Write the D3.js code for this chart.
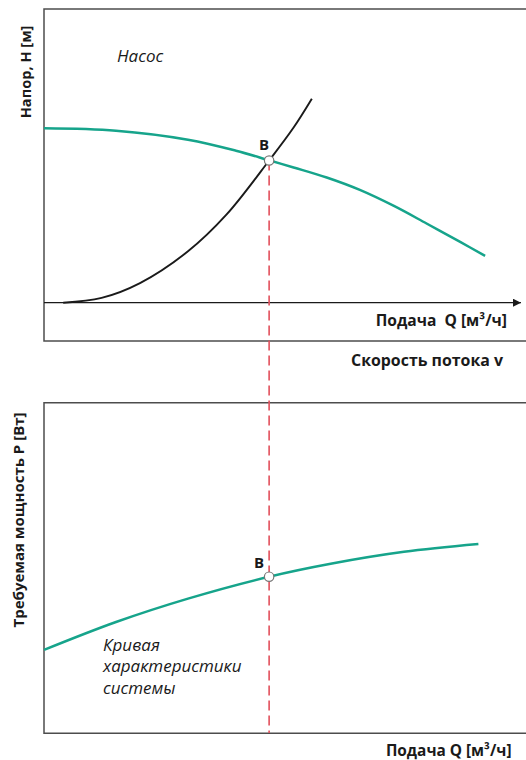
<!DOCTYPE html>
<html><head><meta charset="utf-8">
<script src="https://cdn.jsdelivr.net/npm/d3@7"></script>
<style>
html,body{margin:0;padding:0;background:#fff;}
svg{display:block;}
text{font-family:"Open Sans",sans-serif;fill:#1a1a1a;}
</style></head><body>
<svg id="c" width="526" height="760"></svg>
<script>
// Pump curve (top panel): flow Q vs head H
const pumpQ = [0, 15, 30, 40, 46.9, 52, 58.9, 65.8, 72.8, 79.7, 86.7, 91.9];
const pumpH = [87.2, 86, 81.5, 76, 71.2, 67.6, 62.6, 56.4, 48.5, 39.6, 30.4, 23.4];
// System curve (top panel)
const sysQ = [4, 12, 20, 30, 38, 46.9, 52, 55.8];
const sysH = [0, 2.4, 9.8, 25.7, 44, 71.1, 87.6, 102];
// Power curve (bottom panel): flow Q vs power P
const powQ = [0, 15, 30, 46.9, 60, 75, 90.5];
const powP = [27.7, 37, 44.8, 52.1, 56.5, 60.4, 63];
// Operating point B
const opQ = 46.9, opH = 71.1, opP = 52.1;

const svg = d3.select("#c");
const teal = "#16a48b", red = "#e2505c", frame = "#4d4d4d";

const x = d3.scaleLinear().domain([0, 100]).range([44, 524]);
const yTop = d3.scaleLinear().domain([0, 100]).range([302.7, 102.7]);
const yBot = d3.scaleLinear().domain([0, 100]).range([733, 433]);

// frames
svg.append("path").attr("d", "M527,9H44V341H527").attr("fill","none").attr("stroke",frame).attr("stroke-width",1.5);
svg.append("path").attr("d", "M527,402.7H44V733.3H527").attr("fill","none").attr("stroke",frame).attr("stroke-width",1.5);

// Q axis with arrow (top)
svg.append("defs").append("marker").attr("id","arr").attr("viewBox","0 0 10 10")
  .attr("refX",10).attr("refY",5).attr("markerWidth",10).attr("markerHeight",8).attr("markerUnits","userSpaceOnUse")
  .attr("orient","auto").append("path").attr("d","M0,0L10,5L0,10Z").attr("fill","#1a1a1a");
svg.append("line").attr("x1",x(0)).attr("x2",521).attr("y1",yTop(0)).attr("y2",yTop(0))
  .attr("stroke","#1a1a1a").attr("stroke-width",1.3).attr("marker-end","url(#arr)");

// red dashed line
svg.append("line").attr("x1",x(opQ)).attr("x2",x(opQ)).attr("y1",yTop(opH)).attr("y2",733)
  .attr("stroke",red).attr("stroke-width",1.6).attr("stroke-dasharray","10,5");

const curve = d3.curveCatmullRom.alpha(0.5);
const lineTop = (qs, hs) => d3.line().curve(curve).x(d=>x(d[0])).y(d=>yTop(d[1]))(qs.map((q,i)=>[q,hs[i]]));
svg.append("path").attr("d", lineTop(pumpQ, pumpH)).attr("fill","none").attr("stroke",teal).attr("stroke-width",2.5);
svg.append("path").attr("d", lineTop(sysQ, sysH)).attr("fill","none").attr("stroke","#1a1a1a").attr("stroke-width",1.9);
const powLine = d3.line().curve(curve).x(d=>x(d[0])).y(d=>yBot(d[1]));
svg.append("path").attr("d", powLine(powQ.map((q,i)=>[q,powP[i]]))).attr("fill","none").attr("stroke",teal).attr("stroke-width",2.5);

// points
[[x(opQ), yTop(opH)], [x(opQ), yBot(opP)]].forEach(p=>{
  svg.append("circle").attr("cx",p[0]).attr("cy",p[1]).attr("r",4.7).attr("fill","#fff").attr("stroke","#777").attr("stroke-width",1.2);
});
svg.append("text").attr("x",x(opQ)-5).attr("y",yTop(opH)-11).attr("text-anchor","middle").attr("font-weight",700).attr("font-size",15).text("B");
svg.append("text").attr("x",x(opQ)-10).attr("y",yBot(opP)-8.5).attr("text-anchor","middle").attr("font-weight",700).attr("font-size",15).text("B");

// labels
svg.append("text").attr("x",117).attr("y",62).attr("font-style","italic").attr("font-size",17).text("Насос");
svg.append("text").attr("x",507).attr("y",326).attr("text-anchor","end").attr("font-weight",700).attr("font-size",15.6).attr("xml:space","preserve").text("Подача  Q [м³/ч]");
svg.append("text").attr("x",503).attr("y",366).attr("text-anchor","end").attr("font-weight",700).attr("font-size",15.9).text("Скорость потока v");
svg.append("text").attr("transform","translate(31,72) rotate(-90)").attr("text-anchor","middle").attr("font-weight",700).attr("font-size",14.6).text("Напор, Н [м]");
svg.append("text").attr("transform","translate(24,520) rotate(-90)").attr("text-anchor","middle").attr("font-weight",700).attr("font-size",15).text("Требуемая мощность P [Вт]");
svg.append("text").attr("x",511.5).attr("y",755.5).attr("text-anchor","end").attr("font-weight",700).attr("font-size",15.4).text("Подача Q [м³/ч]");
["Кривая","характеристики","системы"].forEach((t,i)=>{
  svg.append("text").attr("x",103).attr("y",651+i*21.3).attr("font-style","italic").attr("font-size",17).text(t);
});
</script></body></html>
